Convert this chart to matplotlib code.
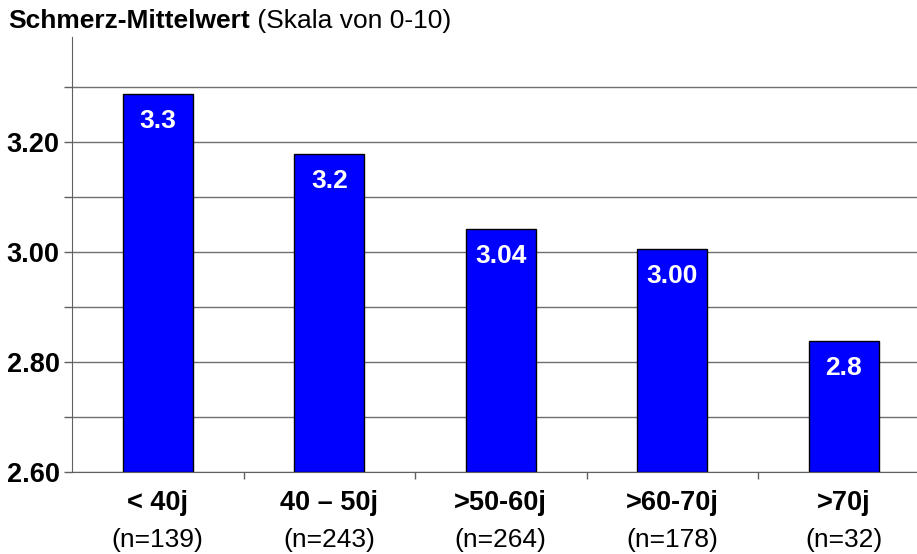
import matplotlib.pyplot as plt
from matplotlib.ticker import MultipleLocator, FuncFormatter

plt.rcParams['font.family'] = ['Liberation Sans', 'DejaVu Sans']

# data
groups = ['< 40j', '40 – 50j', '>50-60j', '>60-70j', '>70j']
counts = ['(n=139)', '(n=243)', '(n=264)', '(n=178)', '(n=32)']
means = [3.287, 3.178, 3.041, 3.005, 2.838]
value_labels = ['3.3', '3.2', '3.04', '3.00', '2.8']

base = 2.60
top = 3.391

fig = plt.figure(figsize=(9.17, 5.54), dpi=100)
ax = fig.add_axes([72 / 917, 82 / 554, 845 / 917, 435 / 554])

x = list(range(len(groups)))
ax.bar(x, [m - base for m in means], bottom=base, width=0.41,
       color='#0000FF', edgecolor='black', linewidth=1, zorder=3)

ax.set_ylim(base, top)
ax.set_xlim(-0.5, 4.427)

# y axis: grid every 0.1, labels every 0.2
ax.yaxis.set_major_locator(MultipleLocator(0.1))
ax.yaxis.set_major_formatter(FuncFormatter(
    lambda v, p: f'{v:.2f}' if round(v * 10) % 2 == 0 else ''))
ax.grid(axis='y', color='#707070', linewidth=1, zorder=0)
ax.set_axisbelow(True)
ax.tick_params(axis='y', length=6, width=1, color='#606060', pad=3,
               labelsize=19.5)
for lab in ax.get_yticklabels():
    lab.set_fontweight('bold')

# x axis: small ticks between categories
ax.set_xticks([])
ax.set_xticks([0.5, 1.5, 2.5, 3.5], minor=True)
ax.tick_params(axis='x', which='minor', length=5, width=1, color='#606060',
               direction='out')

for s in ['top', 'right']:
    ax.spines[s].set_visible(False)
ax.spines['left'].set_color('#606060')
ax.spines['bottom'].set_color('#606060')

trans = ax.get_xaxis_transform()
for i, (g, c) in enumerate(zip(groups, counts)):
    ax.text(i, -0.0713, g, transform=trans, ha='center', va='center',
            fontsize=19.5, fontweight='bold')
    ax.text(i, -0.156, c, transform=trans, ha='center', va='center',
            fontsize=19)

for i, (m, lbl) in enumerate(zip(means, value_labels)):
    ax.annotate(lbl, (i, m), xytext=(0, -27), textcoords='offset pixels',
                ha='center', va='center', color='white', fontsize=19,
                fontweight='bold', zorder=4)

t1 = fig.text(8 / 917, 1 - 28 / 554, 'Schmerz-Mittelwert', fontsize=19,
              fontweight='bold', va='baseline', ha='left')
ax.annotate(' (Skala von 0-10)', xy=(1, 0), xycoords=t1, va='bottom',
            ha='left', fontsize=19, annotation_clip=False)

fig.savefig('out.png', dpi=100)
